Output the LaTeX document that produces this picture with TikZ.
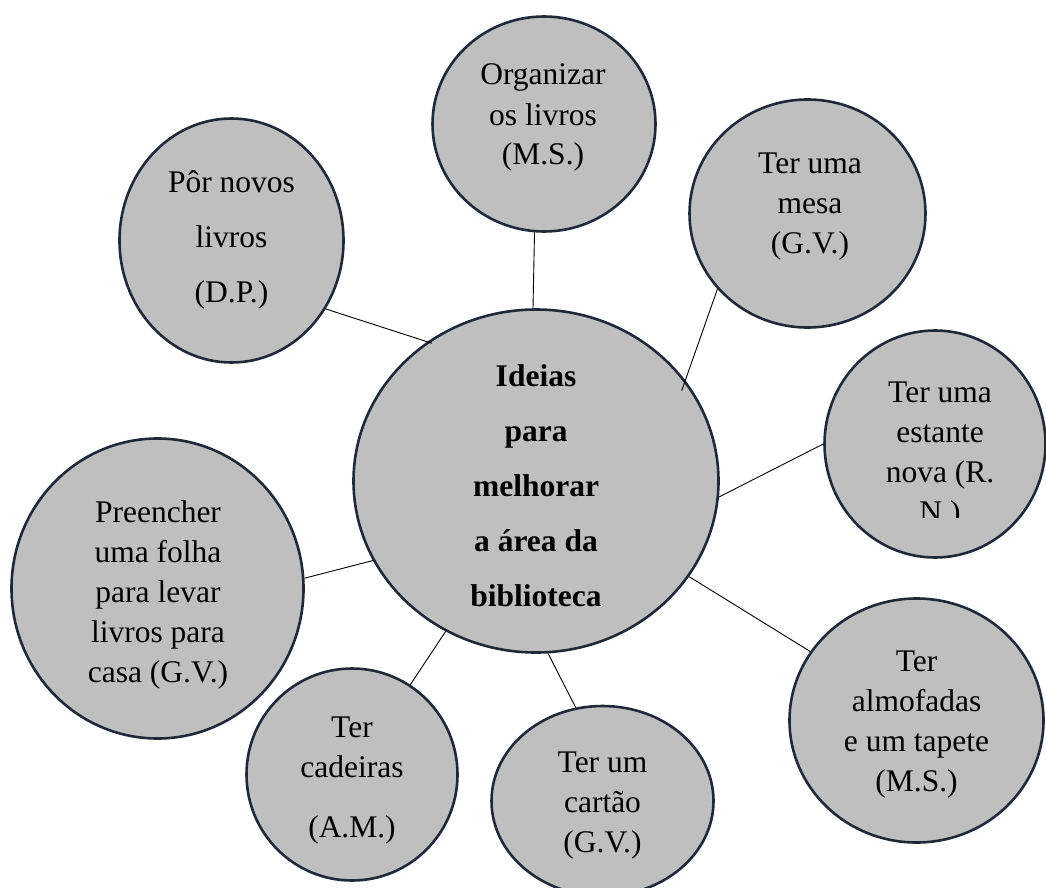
\documentclass[tikz,border=0pt]{standalone}
\usepackage{fontspec}
\setmainfont{Liberation Serif}
\usetikzlibrary{shapes.geometric}
\definecolor{bubfill}{RGB}{191,191,191}
\definecolor{bubline}{RGB}{33,41,54}
\newcommand{\bubtext}[1]{\begin{tabular}[t]{@{}c@{}}#1\end{tabular}}
\tikzset{
  bub/.style={ellipse, draw=bubline, fill=bubfill, line width=2.6pt, inner sep=0pt},
  conn/.style={draw=black, line width=0.9pt},
  txt/.style={anchor=base, inner sep=0pt, font=\fontsize{31.5}{40}\selectfont},
  wide/.style={font=\fontsize{31.5}{55}\selectfont},
}
\begin{document}
\begin{tikzpicture}[x=1pt,y=-1pt]
\useasboundingbox (0,0) rectangle (1046,888);
% bubbles
\node[bub, minimum width=365pt, minimum height=343pt] (C) at (536,481) {};
\node[bub, minimum width=224pt, minimum height=244pt] (P) at (231.5,240.5) {};
\node[bub, minimum width=223pt, minimum height=215pt] (O) at (544,124) {};
\node[bub, minimum width=236pt, minimum height=228pt] (M) at (807.5,213.5) {};
\node[bub, minimum width=221pt, minimum height=227pt] (E) at (935,444) {};
\node[bub, minimum width=254pt, minimum height=244pt] (A) at (916.5,720.5) {};
\node[bub, minimum width=222pt, minimum height=190pt] (T) at (602.5,801) {};
\node[bub, minimum width=211pt, minimum height=212pt] (D) at (352,774.5) {};
\node[bub, minimum width=292pt, minimum height=300pt] (R) at (157.5,588.5) {};
% connectors
\draw[conn, shorten >=-5pt] (P.-36) -- (C.128);
\draw[conn] (O.265) -- (C.91);
\draw[conn, shorten >=-11pt] (M.220) -- (C.34);
\draw[conn] (E.180) -- (C.-5);
\draw[conn] (A.147) -- (C.-32);
\draw[conn] (T.106) -- (C.-86);
\draw[conn] (D.57) -- (C.239);
\draw[conn] (R.4) -- (C.206);
% texts
\node[txt, wide] (Ct) at (536,386) {\bfseries\bubtext{Ideias\\para\\melhorar\\a área da\\biblioteca}};
\node[txt, wide] (Pt) at (231.5,192) {\bubtext{Pôr novos\\livros\\(D.P.)}};
\node[txt] (Ot) at (543,85) {\bubtext{Organizar\\os livros\\(M.S.)}};
\node[txt] (Mt) at (810,173) {\bubtext{Ter uma\\mesa\\(G.V.)}};
\begin{scope}
  \clip (815,330) rectangle (1050,517);
  \node[txt] (Et) at (940,402) {\bubtext{Ter uma\\estante\\nova (R.\\N.)}};
\end{scope}
\node[txt] (At) at (916.5,671) {\bubtext{Ter\\almofadas\\e um tapete\\(M.S.)}};
\node[txt] (Tt) at (602.5,772) {\bubtext{Ter um\\cartão\\(G.V.)}};
\node[txt] (Dt) at (352,737) {\bubtext{Ter\\cadeiras\\[20pt](A.M.)}};
\node[txt] (Rt) at (158,522) {\bubtext{Preencher\\uma folha\\para levar\\livros para\\casa (G.V.)}};
\end{tikzpicture}
\end{document}
